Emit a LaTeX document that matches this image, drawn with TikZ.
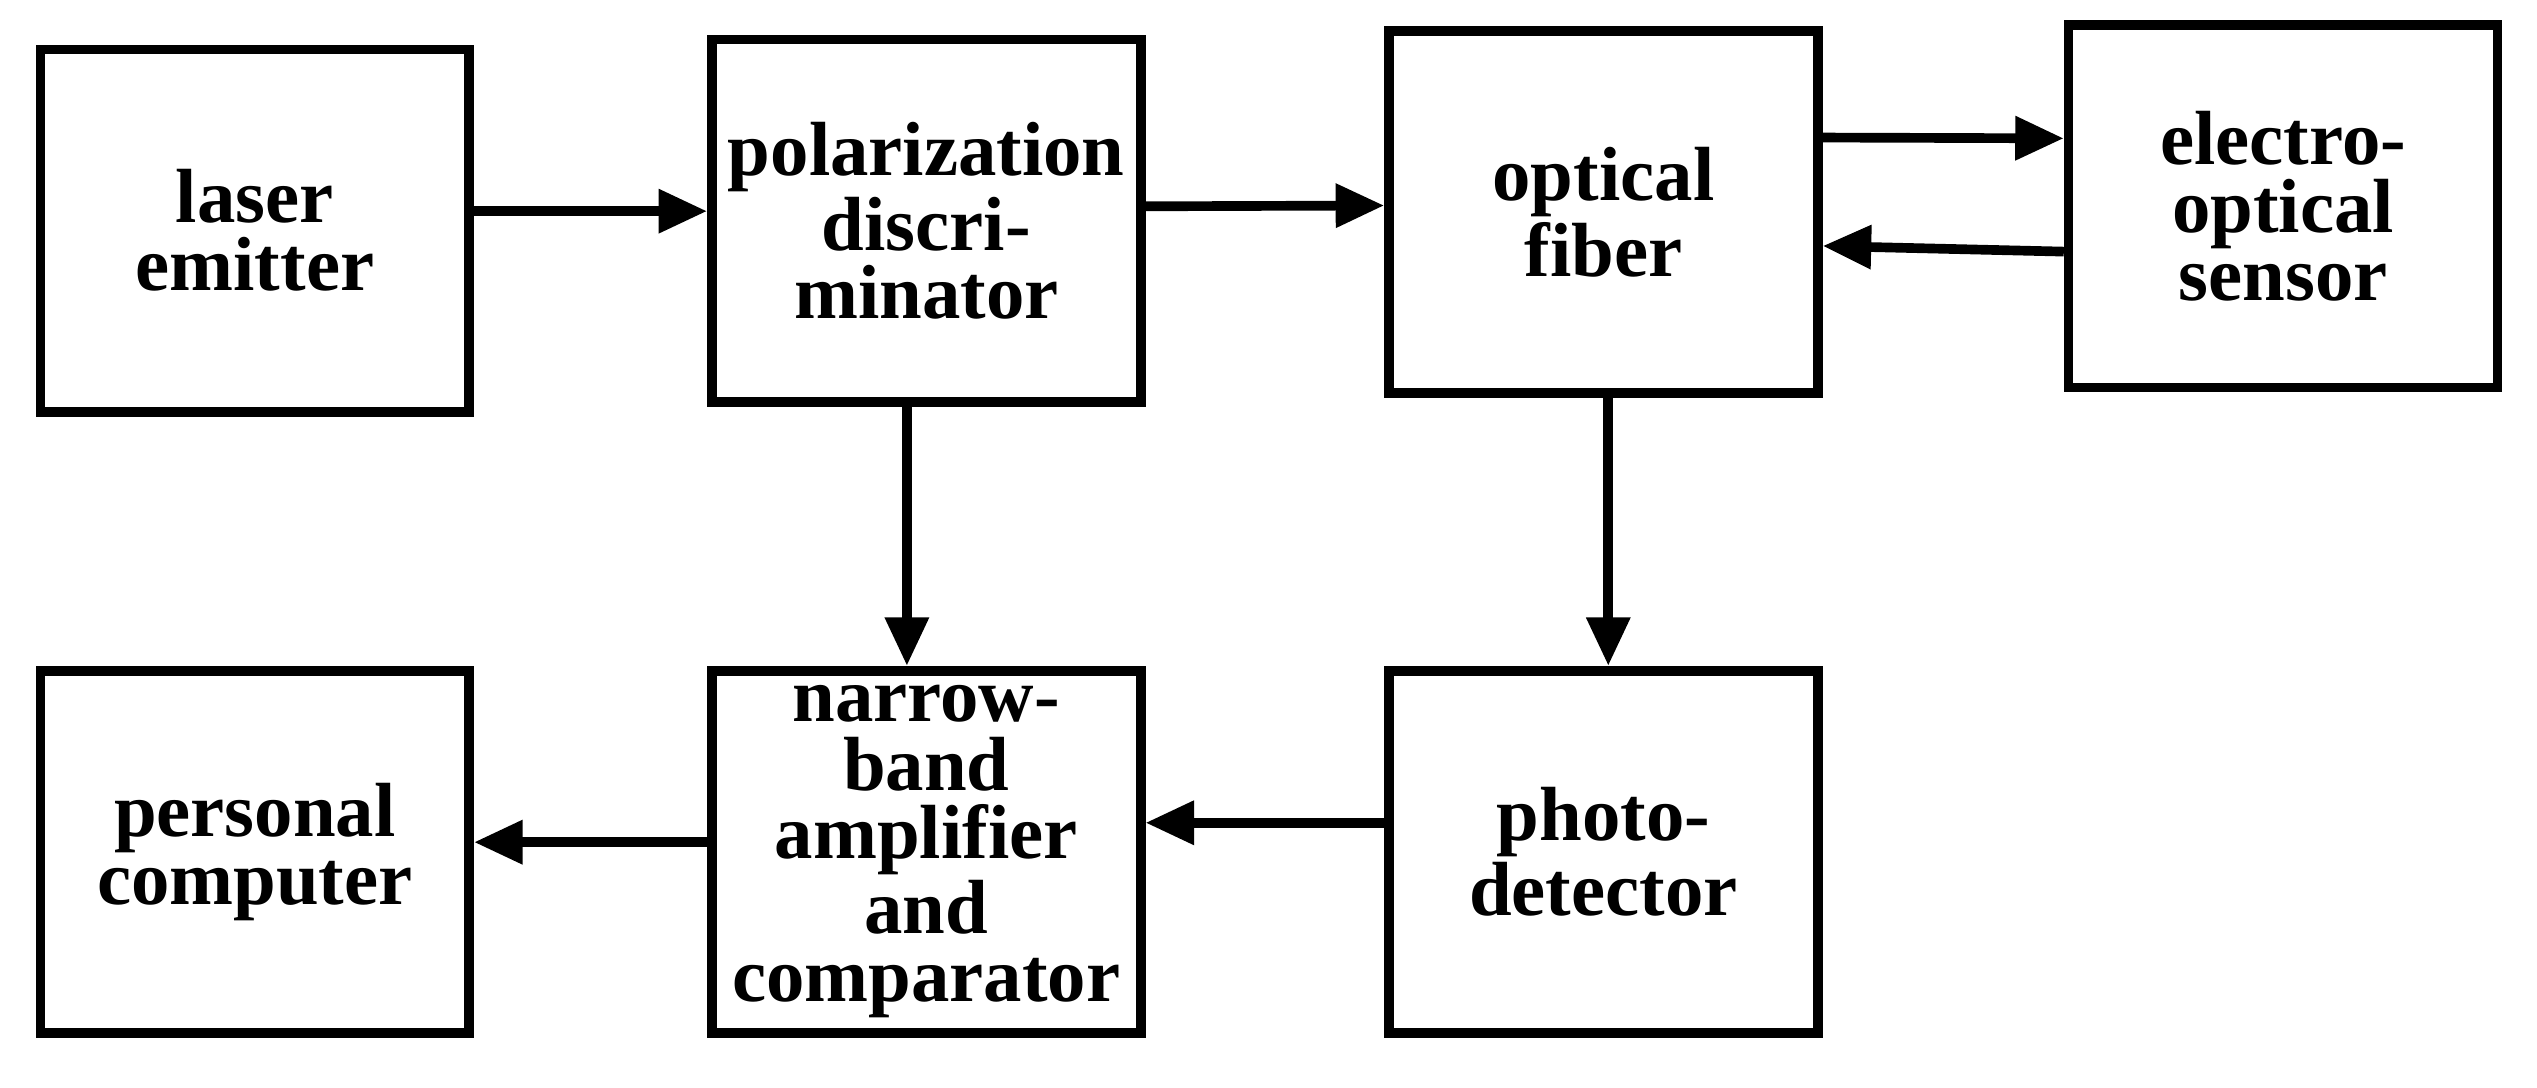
\documentclass[tikz,border=0pt]{standalone}
\usepackage{fontspec}
\setmainfont{Liberation Serif}
\usetikzlibrary{arrows.meta}
\begin{document}
\begin{tikzpicture}[
  blk/.style={draw,line width=1.7pt,minimum width=2.65cm,minimum height=2.24cm,
    align=center,inner sep=0pt,font=\fontsize{13.5}{12}\selectfont\bfseries},
  arr/.style={line width=1.7pt,-{Triangle[length=0.3cm,width=0.26cm]}}]
\useasboundingbox (0,0) rectangle (15.68,-6.72);
% top row
\node[blk] (laser)  at (1.575,-1.425) {laser\\emitter};
\node[blk] (polar)  at (5.725,-1.365) {polarization\\discri-\\minator};
\node[blk] (fiber)  at (9.91,-1.31)   {optical\\fiber};
\node[blk] (sensor) at (14.11,-1.275) {electro-\\optical\\sensor};
% bottom row
\node[blk] (pc)       at (1.575,-5.265) {personal\\computer};
\node[blk] (amp)      at (5.725,-5.265) {narrow-\\band\\amplifier\\and\\comparator};
\node[blk] (detector) at (9.91,-5.265)  {photo-\\detector};
%
\draw[arr] ([yshift=0.12cm]laser.east) -- ([yshift=0.06cm]polar.west);
\draw[arr] ([yshift=0.09cm]polar.east) -- ([yshift=0.04cm]fiber.west);
\draw[arr] ([yshift=0.46cm]fiber.east) -- ([yshift=0.42cm]sensor.west);
\draw[arr] ([yshift=-0.28cm]sensor.west) -- ([yshift=-0.21cm]fiber.east);
\draw[arr] ([xshift=-0.12cm]polar.south) -- ([xshift=-0.12cm]amp.north);
\draw[arr] ([xshift=0.03cm]fiber.south) -- ([xshift=0.03cm]detector.north);
\draw[arr] ([yshift=0.18cm]detector.west) -- ([yshift=0.18cm]amp.west -| amp.east);
\draw[arr] ([yshift=0.06cm]amp.west) -- ([yshift=0.06cm]pc.east);
\end{tikzpicture}
\end{document}
